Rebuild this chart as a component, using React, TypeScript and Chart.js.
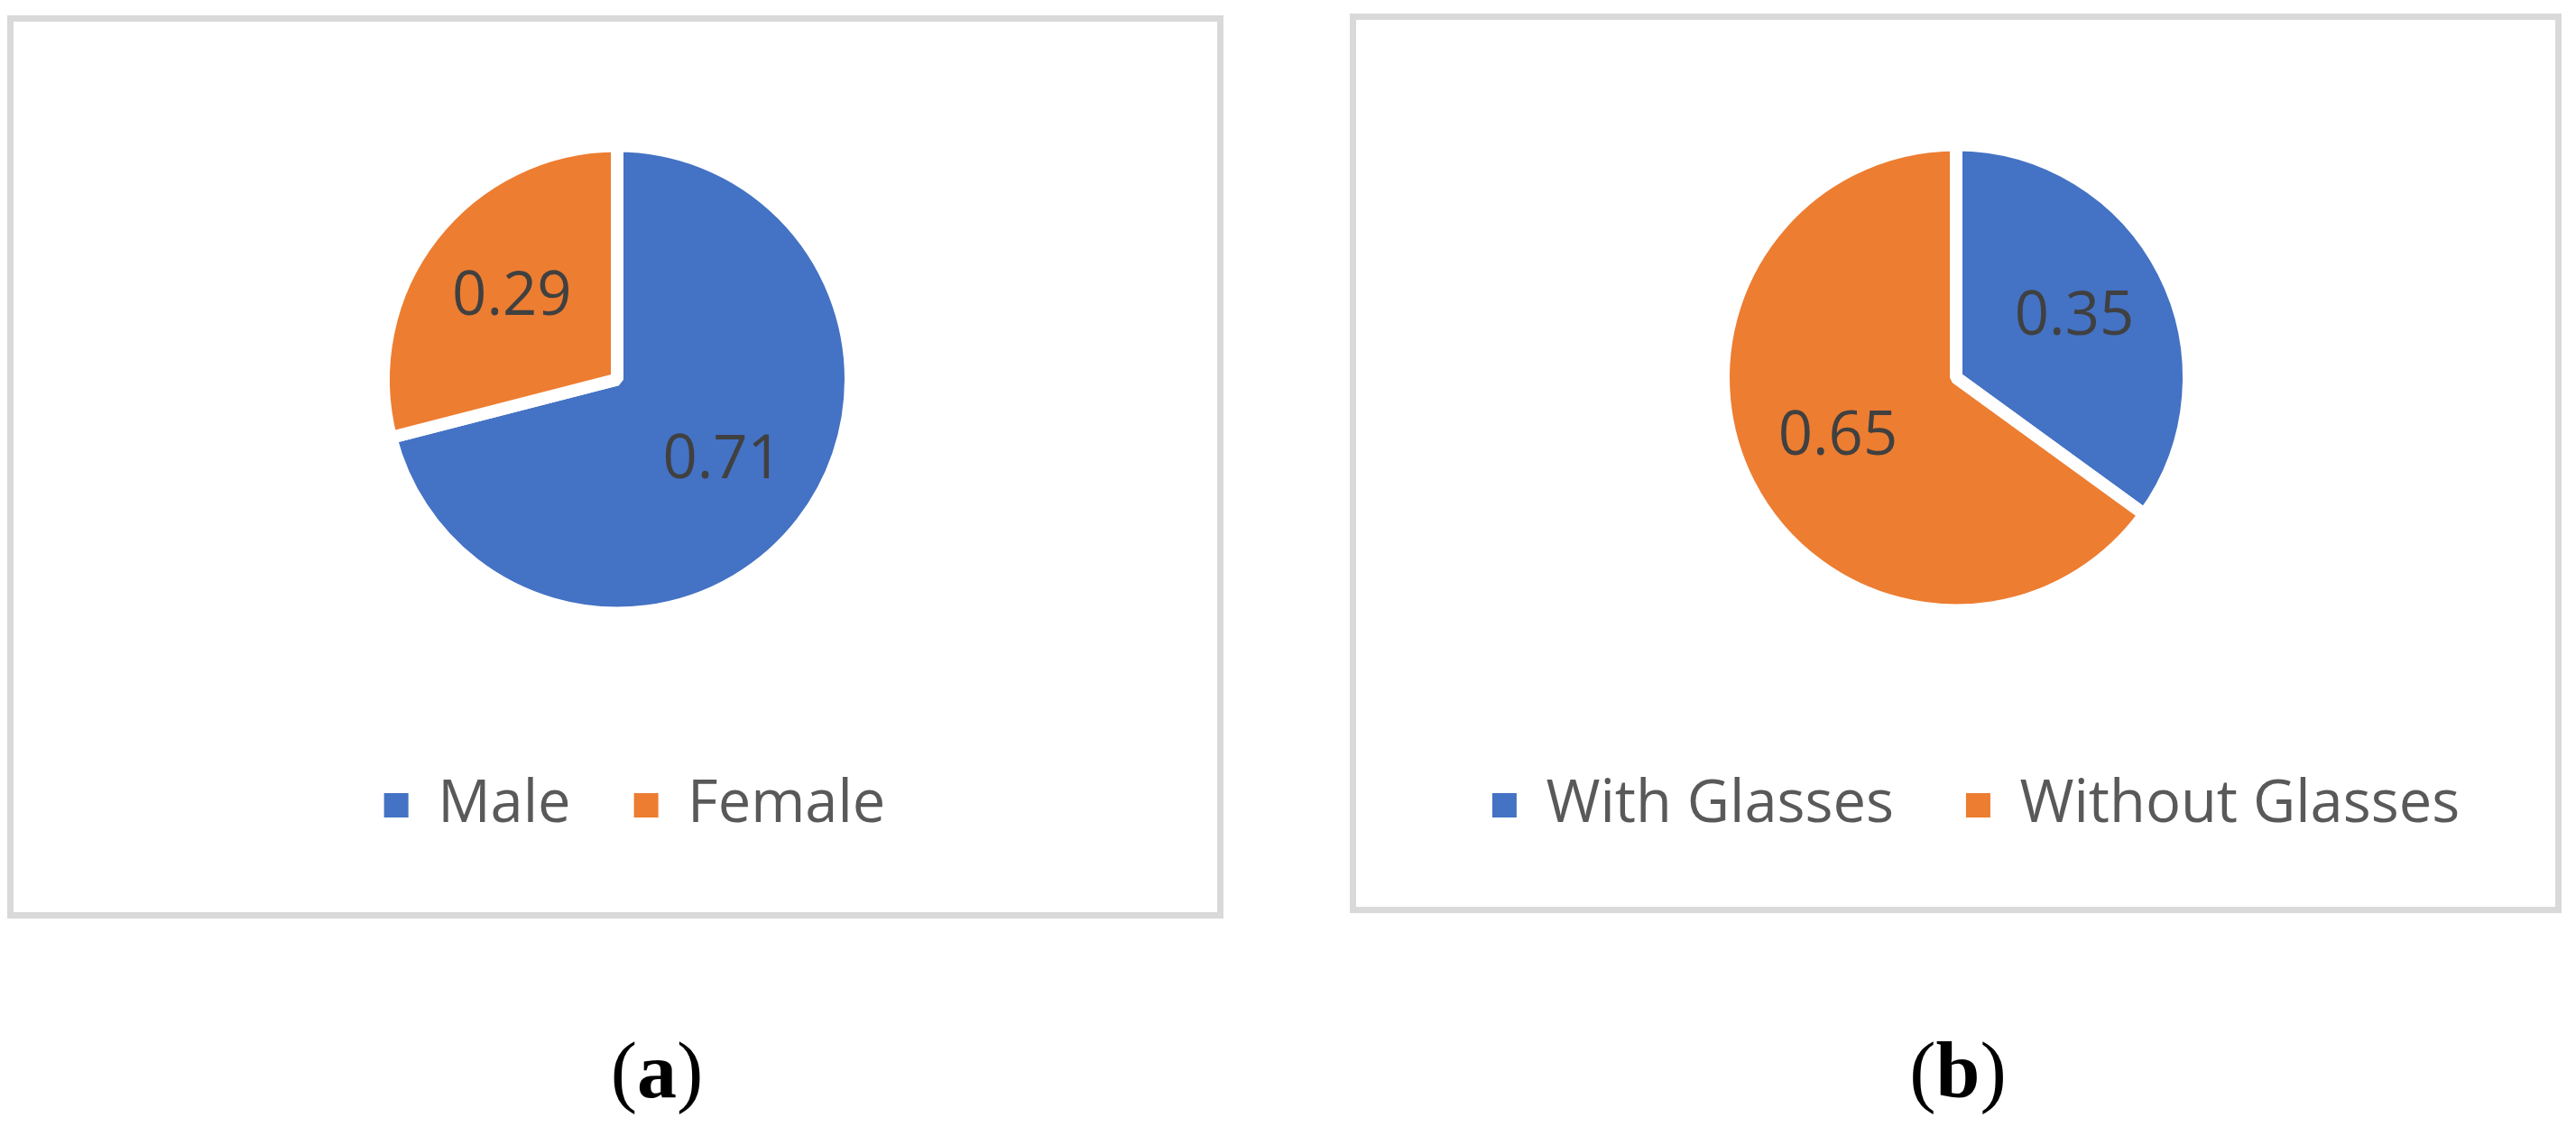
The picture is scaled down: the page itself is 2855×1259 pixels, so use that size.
import React, { useEffect, useRef } from "react";
import { Chart, registerables } from "chart.js";

Chart.register(...registerables);

// ---- data ----
const genderLabels = ["Male", "Female"];
const genderValues = [0.71, 0.29];
const glassesLabels = ["With Glasses", "Without Glasses"];
const glassesValues = [0.35, 0.65];
const sliceColors = ["#4472C4", "#ED7D31"];
const captions = ["(a)", "(b)"];

const FONT = "'Open Sans', 'Noto Sans', sans-serif";

const sliceValuePlugin = {
  id: "sliceValues",
  afterDatasetsDraw(chart: any) {
    const ctx = chart.ctx;
    const meta = chart.getDatasetMeta(0);
    const values = chart.data.datasets[0].data as number[];
    ctx.save();
    ctx.font = `67px ${FONT}`;
    ctx.fillStyle = "#404040";
    ctx.textAlign = "center";
    ctx.textBaseline = "middle";
    meta.data.forEach((arc: any, i: number) => {
      const { x, y, startAngle, endAngle, outerRadius } = arc.getProps(
        ["x", "y", "startAngle", "endAngle", "outerRadius"],
        true
      );
      const mid = (startAngle + endAngle) / 2;
      const r = outerRadius * 0.57;
      ctx.fillText(values[i].toFixed(2), x + Math.cos(mid) * r, y + Math.sin(mid) * r);
    });
    ctx.restore();
  },
};

type PanelProps = {
  labels: string[];
  values: number[];
  width: number;
  height: number;
  radius: number;
  pad: { left: number; right: number; top: number; bottom: number };
  legendPad: number;
  spacer: number;
};

function PiePanel(props: PanelProps) {
  const ref = useRef<HTMLCanvasElement | null>(null);
  useEffect(() => {
    if (!ref.current) return;
    const chart = new Chart(ref.current, {
      type: "pie",
      data: {
        labels: props.labels,
        datasets: [
          {
            data: props.values,
            backgroundColor: sliceColors,
            borderColor: "#ffffff",
            borderWidth: 14,
          },
        ],
      },
      options: {
        responsive: false,
        animation: false,
        events: [],
        radius: props.radius,
        layout: { padding: props.pad },
        plugins: {
          tooltip: { enabled: false },
          title: {
            display: true,
            text: "",
            position: "right",
            fullSize: false,
            padding: 0,
            font: { size: props.spacer, lineHeight: 1 },
          },
          legend: {
            display: true,
            position: "bottom",
            labels: {
              color: "#595959",
              font: { family: FONT, size: 65 },
              boxWidth: 27,
              boxHeight: 27,
              padding: props.legendPad,
              generateLabels: (c: any) =>
                (c.data.labels as string[]).map((t, i) => ({
                  text: t,
                  fillStyle: sliceColors[i],
                  strokeStyle: sliceColors[i],
                  lineWidth: 0,
                  hidden: false,
                  index: i,
                  fontColor: "#595959",
                })),
            },
          },
        },
      } as any,
      plugins: [sliceValuePlugin],
    });
    return () => chart.destroy();
  }, []);
  return (
    <canvas
      ref={ref}
      width={props.width}
      height={props.height}
      style={{ position: "absolute", left: 0, top: 0, display: "block" }}
    />
  );
}

const captionStyle: React.CSSProperties = {
  position: "absolute",
  width: 300,
  textAlign: "center",
  fontFamily: "'Liberation Serif', 'Times New Roman', serif",
  fontSize: 88,
  lineHeight: "88px",
  color: "#000",
};

function Caption({ text, center, top }: { text: string; center: number; top: number }) {
  const inner = text.replace(/[()]/g, "");
  return (
    <div style={{ ...captionStyle, left: center - 150, top }}>
      (<b>{inner}</b>)
    </div>
  );
}

export default function App() {
  return (
    <div
      style={{
        position: "absolute",
        left: 0,
        top: 0,
        width: 2855,
        height: 1259,
        background: "#ffffff",
        overflow: "hidden",
      }}
    >
      <div
        style={{
          position: "absolute",
          left: 8,
          top: 17,
          width: 1348,
          height: 1001,
          boxSizing: "border-box",
          border: "7px solid #D9D9D9",
        }}
      >
        <PiePanel
          labels={genderLabels}
          values={genderValues}
          width={1334}
          height={987}
          radius={259}
          pad={{ left: 43, right: 0, top: 27, bottom: 76 }}
          legendPad={70}
          spacer={39}
        />
      </div>
      <div
        style={{
          position: "absolute",
          left: 1496,
          top: 15,
          width: 1343,
          height: 997,
          boxSizing: "border-box",
          border: "7px solid #D9D9D9",
        }}
      >
        <PiePanel
          labels={glassesLabels}
          values={glassesValues}
          width={1329}
          height={983}
          radius={258}
          pad={{ left: 45, right: 0, top: 35, bottom: 70 }}
          legendPad={80}
          spacer={44}
        />
      </div>
      <Caption text={captions[0]} center={728} top={1143} />
      <Caption text={captions[1]} center={2170} top={1143} />
    </div>
  );
}
